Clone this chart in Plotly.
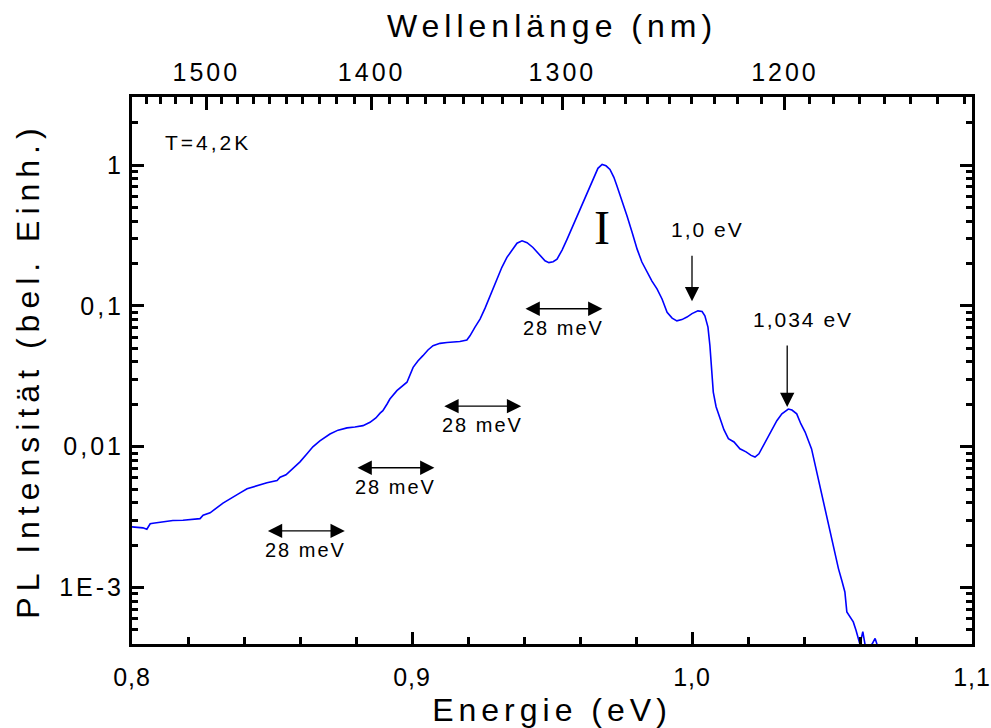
import math
import plotly.graph_objects as go

# PL spectrum at 4.2 K: photon energy (eV) and normalised intensity (arb. units)
energy_ev = [
    0.8000, 0.8018, 0.8039, 0.8053, 0.8065, 0.8075, 0.8100, 0.8146, 0.8182, 0.8214,
    0.8243, 0.8254, 0.8279, 0.8325, 0.8357, 0.8386, 0.8411, 0.8446, 0.8482, 0.8518,
    0.8529, 0.8550, 0.8575, 0.8600, 0.8625, 0.8646, 0.8671, 0.8707, 0.8736, 0.8768,
    0.8796, 0.8825, 0.8850, 0.8871, 0.8886, 0.8896, 0.8911, 0.8921, 0.8946, 0.8964,
    0.8982, 0.9004, 0.9021, 0.9039, 0.9057, 0.9075, 0.9100, 0.9125, 0.9146, 0.9171,
    0.9196, 0.9207, 0.9225, 0.9243, 0.9261, 0.9279, 0.9304, 0.9321, 0.9339, 0.9357,
    0.9375, 0.9393, 0.9411, 0.9432, 0.9457, 0.9475, 0.9489, 0.9504, 0.9518, 0.9536,
    0.9554, 0.9579, 0.9600, 0.9625, 0.9646, 0.9664, 0.9679, 0.9693, 0.9707, 0.9721,
    0.9732, 0.9750, 0.9768, 0.9786, 0.9804, 0.9821, 0.9839, 0.9857, 0.9875, 0.9893,
    0.9911, 0.9929, 0.9946, 0.9964, 0.9982, 1.0000, 1.0021, 1.0036, 1.0046, 1.0057,
    1.0064, 1.0071, 1.0076, 1.0086, 1.0100, 1.0114, 1.0130, 1.0150, 1.0171, 1.0193,
    1.0211, 1.0225, 1.0239, 1.0255, 1.0279, 1.0303, 1.0321, 1.0344, 1.0357, 1.0374,
    1.0389, 1.0404, 1.0427, 1.0443, 1.0457, 1.0475, 1.0493, 1.0507, 1.0523, 1.0536,
    1.0546, 1.0553, 1.0564, 1.0576, 1.0586, 1.0594, 1.0600, 1.0610, 1.0618, 1.0629,
    1.0643, 1.0654, 1.0661, 1.0680,
]
intensity = [
    2.69e-3, 2.68e-3, 2.65e-3, 2.59e-3, 2.83e-3, 2.86e-3, 2.90e-3, 2.99e-3, 3.00e-3, 3.04e-3,
    3.08e-3, 3.26e-3, 3.39e-3, 3.97e-3, 4.36e-3, 4.70e-3, 5.02e-3, 5.30e-3, 5.54e-3, 5.75e-3,
    6.06e-3, 6.31e-3, 6.96e-3, 7.80e-3, 8.89e-3, 9.97e-3, 1.10e-2, 1.23e-2, 1.31e-2, 1.36e-2,
    1.38e-2, 1.41e-2, 1.49e-2, 1.60e-2, 1.73e-2, 1.80e-2, 2.01e-2, 2.18e-2, 2.50e-2, 2.70e-2,
    2.87e-2, 3.66e-2, 4.06e-2, 4.43e-2, 4.86e-2, 5.21e-2, 5.42e-2, 5.49e-2, 5.51e-2, 5.58e-2,
    5.72e-2, 6.13e-2, 7.07e-2, 8.06e-2, 9.64e-2, 0.118, 0.155, 0.188, 0.221, 0.251,
    0.279, 0.290, 0.281, 0.260, 0.229, 0.209, 0.203, 0.206, 0.215, 0.249,
    0.298, 0.387, 0.486, 0.621, 0.793, 0.949, 1.01, 0.989, 0.933, 0.819,
    0.711, 0.563, 0.435, 0.334, 0.253, 0.205, 0.173, 0.150, 0.132, 0.112,
    0.0899, 0.0819, 0.0783, 0.0799, 0.0833, 0.0881, 0.0922, 0.0912, 0.0851, 0.0707,
    0.0521, 0.0356, 0.0244, 0.0192, 0.0157, 0.0132, 0.0114, 0.0108, 0.00965, 0.00918,
    0.00867, 0.00843, 0.00889, 0.0102, 0.0125, 0.0153, 0.0171, 0.0185, 0.0182, 0.0171,
    0.0145, 0.0127, 0.00964, 0.00696, 0.00502, 0.00362, 0.00248, 0.00182, 0.00136, 0.00110,
    9.29e-4, 6.70e-4, 6.21e-4, 5.69e-4, 4.94e-4, 4.34e-4, 3.93e-4, 4.85e-4, 3.93e-4, 3.80e-4,
    3.95e-4, 4.34e-4, 3.90e-4, 3.00e-4,
]

# bottom axis (energy)
energy_ticks = [0.8, 0.9, 1.0, 1.1]
energy_ticktext = ["0,8", "0,9", "1,0", "1,1"]
energy_minor = [0.82, 0.84, 0.86, 0.88, 0.92, 0.94, 0.96, 0.98,
                1.02, 1.04, 1.06, 1.08]

# top axis (wavelength)
wl_major = [1500, 1400, 1300, 1200]
wl_minor = list(range(1540, 1120, -10))
HC_EV_NM = 1239.84

# left axis (intensity, log scale)
int_ticks = [1e-3, 1e-2, 1e-1, 1]
int_ticktext = ["1E-3", "0,01", "0,1", "1"]

# replica spacing markers (28 meV)
split_start = [0.848, 0.880, 0.911, 0.940]
split_width = 0.028
split_level = [2.52e-3, 7.08e-3, 1.94e-2, 9.54e-2]
split_text = "28 meV"

# marked peaks
peak_energy = [1.0, 1.034]
peak_label = ["1,0 eV", "1,034 eV"]
peak_arrow_top = [0.233, 0.0536]
peak_arrow_tip = [0.108, 0.0191]

FONT = "Liberation Sans, Arial, sans-serif"


def spaced(text, px):
    return f'<span style="letter-spacing:{px}px">{text}</span>'


e_range = [0.8, 1.1]
y_range = [-3.402, 0.484]
EDGE = 1e-6  # keeps the end tick inside the range

fig = go.Figure()
fig.add_trace(go.Scatter(
    x=energy_ev, y=intensity, mode="lines",
    line=dict(color="#0000ff", width=1.6),
    showlegend=False, hoverinfo="skip",
))
# empty trace so the wavelength axis is drawn
fig.add_trace(go.Scatter(x=[None], y=[None], xaxis="x2", yaxis="y",
                         showlegend=False, hoverinfo="skip"))

tick_font = dict(family=FONT, size=25, color="black")
title_font = dict(family=FONT, size=32, color="black")

fig.update_layout(
    width=991, height=728,
    margin=dict(l=132, r=19, t=97, b=84),
    paper_bgcolor="white", plot_bgcolor="white",
    font=dict(family=FONT, color="black"),
    xaxis=dict(
        range=e_range, showgrid=False, zeroline=False, automargin=False,
        showline=True, linecolor="black", linewidth=3, mirror=True,
        tickmode="array",
        tickvals=[v - EDGE if v == e_range[1] else v for v in energy_ticks],
        ticktext=[spaced(t, 1) for t in energy_ticktext],
        ticks="inside", ticklen=12, tickwidth=2.5, tickcolor="black",
        tickfont=tick_font, ticklabelstandoff=9, ticklabeloverflow="allow",
        minor=dict(tickmode="array", tickvals=energy_minor, ticks="inside",
                   ticklen=7, tickwidth=2.5, tickcolor="black", showgrid=False),
        title=dict(text=spaced("Energie (eV)", 5), font=title_font, standoff=12),
    ),
    xaxis2=dict(
        range=e_range, overlaying="x", side="top", anchor="y", automargin=False,
        showgrid=False, zeroline=False, showline=False,
        tickmode="array", tickvals=[HC_EV_NM / w for w in wl_major],
        ticktext=[spaced(str(w), 3) for w in wl_major],
        ticks="inside", ticklen=13, tickwidth=2.5, tickcolor="black",
        tickfont=tick_font, ticklabelstandoff=10, ticklabeloverflow="allow",
        minor=dict(tickmode="array", tickvals=[HC_EV_NM / w for w in wl_minor],
                   ticks="inside", ticklen=7, tickwidth=2.5, tickcolor="black",
                   showgrid=False),
        title=dict(text=spaced("Wellenlänge (nm)", 5), font=title_font, standoff=10),
    ),
    yaxis=dict(
        type="log", range=y_range, showgrid=False, zeroline=False, automargin=False,
        showline=True, linecolor="black", linewidth=3, mirror="ticks",
        tickmode="array", tickvals=int_ticks,
        ticktext=[spaced(t, 3) for t in int_ticktext],
        ticks="inside", ticklen=12, tickwidth=2.5, tickcolor="black",
        tickfont=tick_font,
        minor=dict(tickmode="array",
                   tickvals=[k * 10.0 ** n for n in range(-4, 1) for k in range(2, 10)],
                   ticks="inside", ticklen=6, tickwidth=2.5, tickcolor="black",
                   showgrid=False),
        title=dict(text=spaced("PL Intensität (bel. Einh.)", 6), font=title_font,
                   standoff=10),
    ),
)

ann = []
ann.append(dict(x=0.811, y=0.162, xref="x", yref="y", text=spaced("T=4,2K", 3),
                showarrow=False, xanchor="left", yanchor="middle",
                font=dict(family=FONT, size=21)))
ann.append(dict(x=0.9678, y=math.log10(0.362), xref="x", yref="y", text="I",
                showarrow=False, xanchor="center", yanchor="middle",
                font=dict(family="Liberation Serif, Times New Roman, serif", size=48)))

for e0, lvl in zip(split_start, split_level):
    ly = math.log10(lvl)
    ann.append(dict(x=e0 + split_width, y=ly, ax=e0, ay=ly,
                    xref="x", yref="y", axref="x", ayref="y", text="",
                    showarrow=True, arrowhead=2, startarrowhead=2,
                    arrowside="end+start", arrowsize=2.2, startarrowsize=2.2,
                    arrowwidth=1.3, arrowcolor="black"))
    ann.append(dict(x=e0 + split_width / 2, y=ly, xref="x", yref="y",
                    text=spaced(split_text, 2), showarrow=False,
                    xanchor="center", yanchor="middle", yshift=-19,
                    font=dict(family=FONT, size=20)))

for e, lab, top, tip in zip(peak_energy, peak_label, peak_arrow_top, peak_arrow_tip):
    ann.append(dict(x=e, y=math.log10(tip), ax=e, ay=math.log10(top),
                    xref="x", yref="y", axref="x", ayref="y", text="",
                    showarrow=True, arrowhead=2, arrowsize=2.2, arrowwidth=1.3,
                    arrowcolor="black"))
    ann.append(dict(x=e + 0.0055, y=math.log10(top), xref="x", yref="y",
                    text=spaced(lab, 2), showarrow=False,
                    xanchor="center", yanchor="bottom", yshift=11,
                    font=dict(family=FONT, size=21)))

fig.update_layout(annotations=ann)
fig.write_html("out.html")
